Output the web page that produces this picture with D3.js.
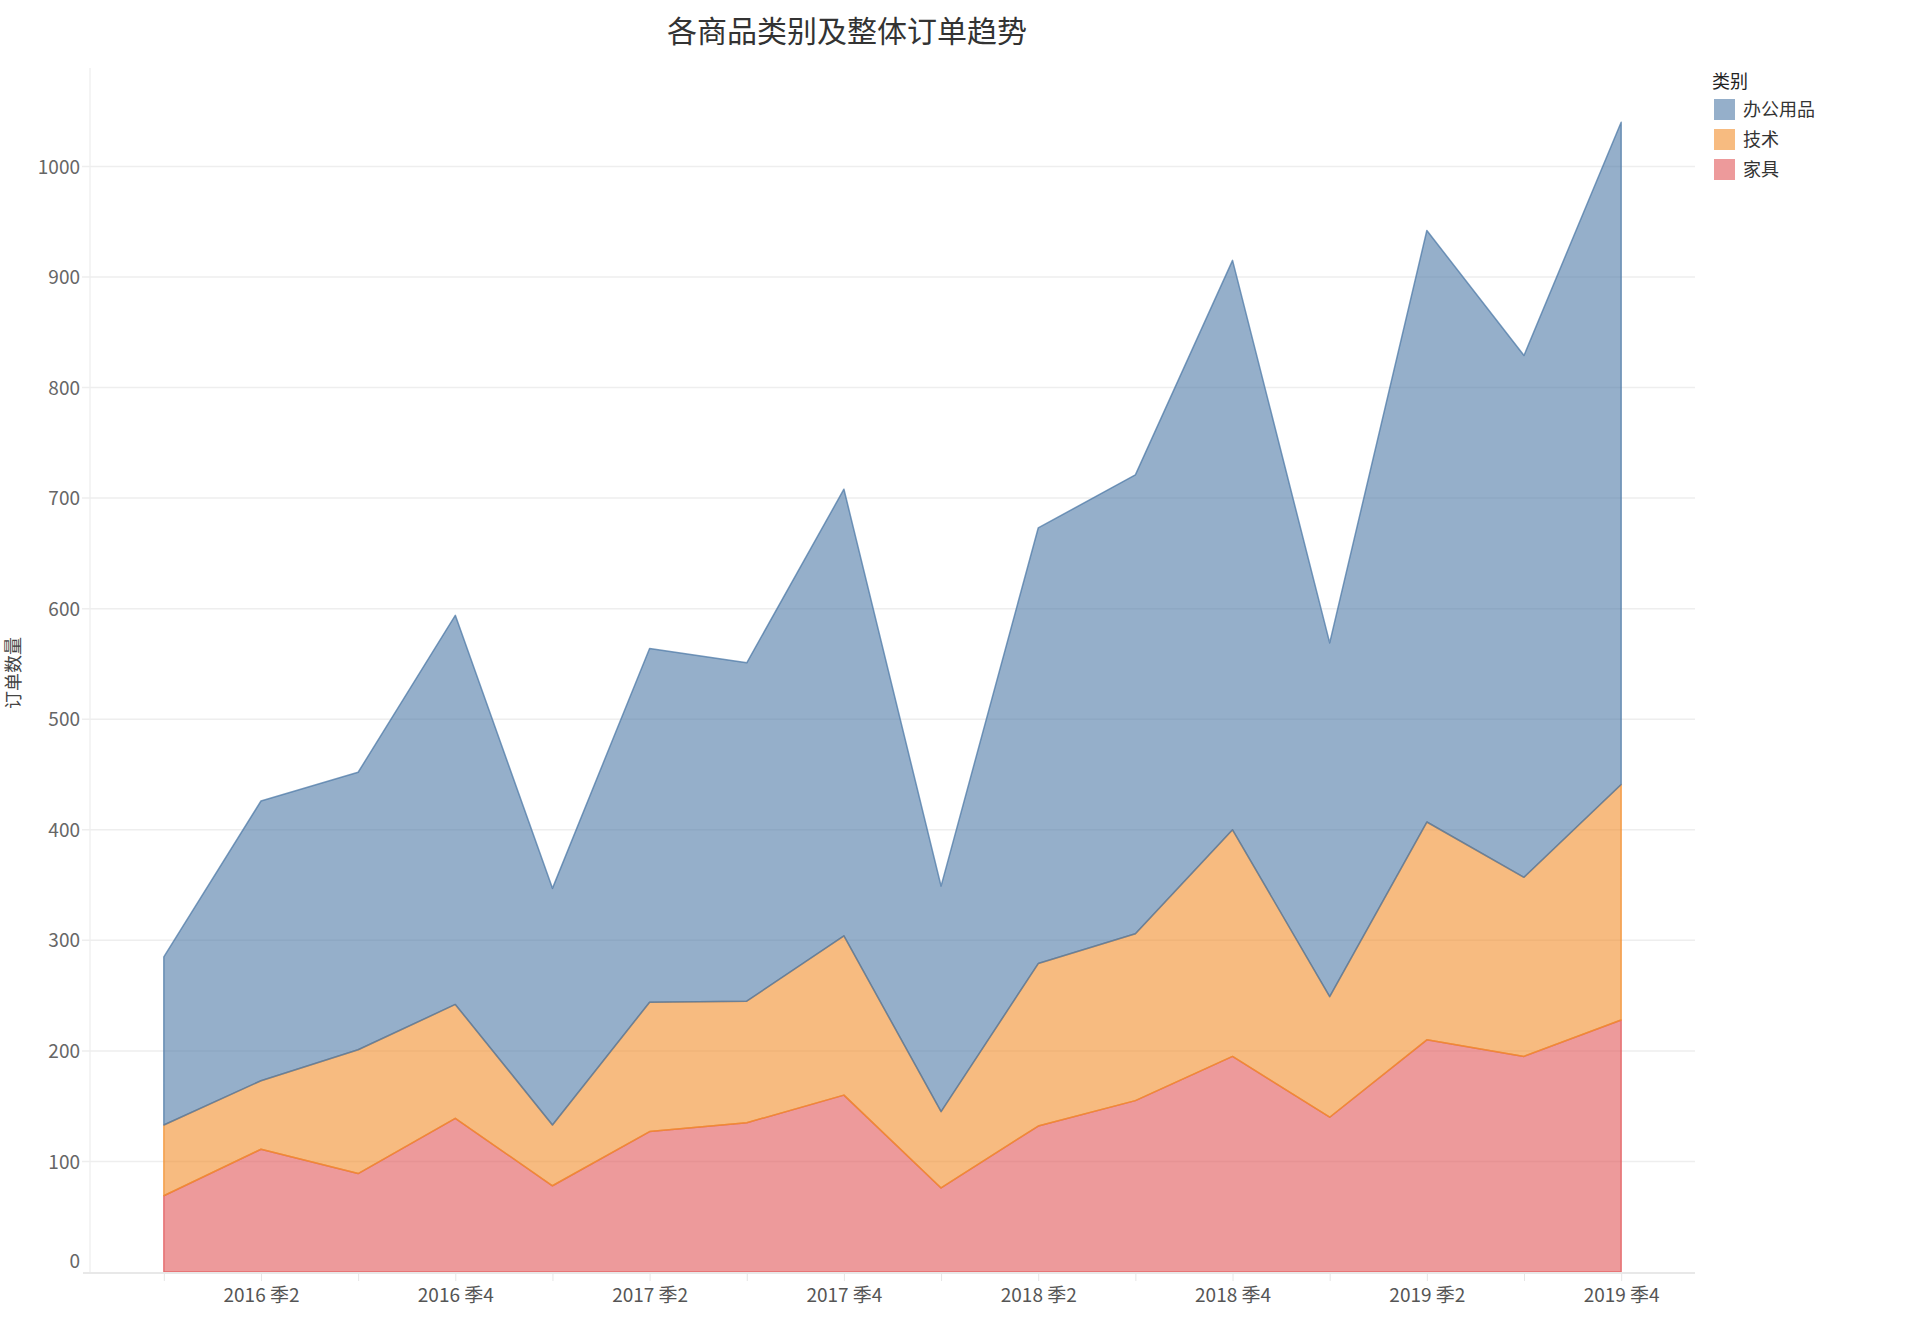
<!DOCTYPE html>
<html>
<head>
<meta charset="utf-8">
<script src="https://cdn.jsdelivr.net/npm/d3@7"></script>
<style>
  body { margin: 0; background: #fff; }
  text { font-family: "Noto Sans CJK SC", "Noto Sans", sans-serif; }
</style>
</head>
<body>
<div id="chart"></div>
<script>
// quarters 2016 Q1 .. 2019 Q4
const quarters = [
    "2016 季1", "2016 季2", "2016 季3", "2016 季4",
    "2017 季1", "2017 季2", "2017 季3", "2017 季4",
    "2018 季1", "2018 季2", "2018 季3", "2018 季4",
    "2019 季1", "2019 季2", "2019 季3", "2019 季4"
];
const categories = ["家具", "技术", "办公用品"];   // stack order, bottom to top
const legendOrder = ["办公用品", "技术", "家具"];
const furniture = [69, 111, 89, 139, 78, 127, 135, 160, 76, 132, 155, 195, 140, 210, 195, 228];
const technology = [64, 62, 112, 103, 55, 117, 110, 144, 69, 147, 151, 205, 109, 197, 162, 213];
const office = [152, 253, 251, 352, 214, 320, 306, 404, 204, 394, 415, 515, 320, 535, 472, 599];
const yTicks = [0, 100, 200, 300, 400, 500, 600, 700, 800, 900, 1000];

const colors = { "办公用品": "#4e79a7", "技术": "#f28e2b", "家具": "#e15759" };

const width = 1920, height = 1318;
const plot = { left: 90, right: 1695, top: 68, bottom: 1272 };

const rows = quarters.map(function(q, i) {
    return { q: q, "家具": furniture[i], "技术": technology[i], "办公用品": office[i] };
});

const svg = d3.select("#chart").append("svg")
    .attr("width", width)
    .attr("height", height);

const x = d3.scalePoint()
    .domain(quarters)
    .range([plot.left, plot.right])
    .padding(0.76);

const y = d3.scaleLinear()
    .domain([0, 1089])
    .range([plot.bottom, plot.top]);

// grid
svg.append("line")
    .attr("x1", plot.left).attr("x2", plot.left)
    .attr("y1", plot.top).attr("y2", plot.bottom)
    .attr("stroke", "#f0f0f0").attr("stroke-width", 1.5);

svg.append("g").selectAll("line")
    .data(yTicks.filter(function(d) { return d > 0; }))
    .enter().append("line")
    .attr("x1", 82).attr("x2", plot.right)
    .attr("y1", function(d) { return y(d); })
    .attr("y2", function(d) { return y(d); })
    .attr("stroke", "#eeeeee").attr("stroke-width", 1.5);

// stacked areas
const series = d3.stack().keys(categories)(rows);

const area = d3.area()
    .x(function(d) { return x(d.data.q); })
    .y0(function(d) { return y(d[0]); })
    .y1(function(d) { return y(d[1]); });

svg.append("g").selectAll("path")
    .data(series)
    .enter().append("path")
    .attr("d", area)
    .attr("fill", function(d) { return colors[d.key]; })
    .attr("fill-opacity", 0.6)
    .attr("stroke", function(d) { return colors[d.key]; })
    .attr("stroke-opacity", 0.75)
    .attr("stroke-width", 1.5)
    .attr("stroke-linejoin", "round");

// baseline
svg.append("line")
    .attr("x1", 83).attr("x2", plot.right)
    .attr("y1", plot.bottom + 1).attr("y2", plot.bottom + 1)
    .attr("stroke", "#e8e8e8").attr("stroke-width", 2);

// x axis
const xAxis = svg.append("g")
    .attr("transform", "translate(0," + (plot.bottom + 2) + ")")
    .call(d3.axisBottom(x)
        .tickSize(7)
        .tickPadding(8)
        .tickFormat(function(d, i) { return i % 2 === 1 ? d : ""; }));
xAxis.select(".domain").remove();
xAxis.selectAll(".tick line").attr("stroke", "#e6e6e6");
xAxis.selectAll(".tick text")
    .attr("fill", "#555")
    .style("font-size", "19px");

// y axis
const yAxis = svg.append("g")
    .attr("transform", "translate(80,0)")
    .call(d3.axisLeft(y).tickValues(yTicks).tickFormat(d3.format("d")).tickSize(0).tickPadding(0));
yAxis.select(".domain").remove();
yAxis.selectAll(".tick text")
    .attr("fill", "#666")
    .style("font-size", "19px")
    .attr("dy", function(d) { return d === 0 ? "-0.25em" : "0.35em"; });

// y title
svg.append("text")
    .attr("transform", "translate(20,673) rotate(-90)")
    .attr("text-anchor", "middle")
    .attr("fill", "#444")
    .style("font-size", "18px")
    .text("订单数量");

// title
svg.append("text")
    .attr("x", 847).attr("y", 42)
    .attr("text-anchor", "middle")
    .attr("fill", "#333")
    .style("font-size", "30px")
    .text("各商品类别及整体订单趋势");

// legend
const legend = svg.append("g").attr("transform", "translate(1712,0)");
legend.append("text")
    .attr("x", 0).attr("y", 88)
    .attr("fill", "#222")
    .style("font-size", "18px")
    .text("类别");

const item = legend.selectAll(".item")
    .data(legendOrder)
    .enter().append("g")
    .attr("class", "item")
    .attr("transform", function(d, i) { return "translate(0," + (99 + i * 30) + ")"; });
item.append("rect")
    .attr("x", 2).attr("width", 21).attr("height", 21)
    .attr("fill", function(d) { return colors[d]; })
    .attr("fill-opacity", 0.6);
item.append("text")
    .attr("x", 31).attr("y", 17)
    .attr("fill", "#333")
    .style("font-size", "18px")
    .text(function(d) { return d; });
</script>
</body>
</html>
